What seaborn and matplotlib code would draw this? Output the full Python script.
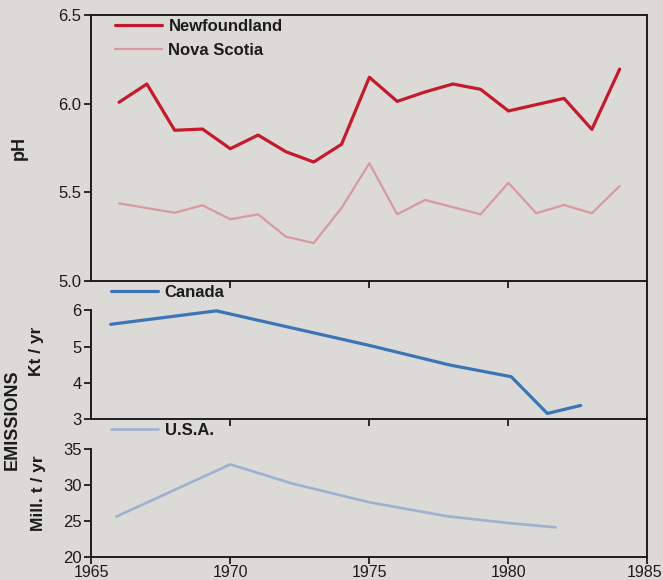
import numpy as np
import pandas as pd
import matplotlib
matplotlib.use('Agg')
import matplotlib.pyplot as plt
import matplotlib.transforms as mtransforms
import seaborn as sns

# pH of rivers
nf_years = [1966, 1967, 1968, 1969, 1970, 1971, 1972, 1973, 1974, 1975,
            1976, 1977, 1978, 1979, 1980, 1982, 1983, 1984]
nf_ph = [6.008, 6.111, 5.850, 5.857, 5.746, 5.823, 5.729, 5.671, 5.771, 6.149,
         6.013, 6.066, 6.111, 6.081, 5.959, 6.030, 5.855, 6.195]

ns_years = [1966, 1968, 1969, 1970, 1971, 1972, 1973, 1974, 1975, 1976,
            1977, 1979, 1980, 1981, 1982, 1983, 1984]
ns_ph = [5.438, 5.385, 5.427, 5.348, 5.376, 5.250, 5.214, 5.412, 5.664, 5.376,
         5.457, 5.376, 5.554, 5.382, 5.429, 5.382, 5.536]

# emissions
can_years = [1965.7, 1969.5, 1975.0, 1977.9, 1980.1, 1981.4, 1982.6]
can_kt = [5.61, 5.98, 5.03, 4.49, 4.17, 3.16, 3.38]

usa_years = [1965.9, 1970.0, 1972.2, 1975.0, 1977.8, 1980.0, 1981.7]
usa_mt = [25.6, 32.9, 30.25, 27.6, 25.65, 24.7, 24.1]

year_ticks = [1965, 1970, 1975, 1980, 1985]

paper = '#dcdad7'
ink = '#1c1c1c'

sns.set_theme(style='ticks')
plt.rcParams['font.family'] = ['Liberation Sans', 'DejaVu Sans']
plt.rcParams['axes.edgecolor'] = ink
plt.rcParams['axes.linewidth'] = 1.4
plt.rcParams['xtick.color'] = ink
plt.rcParams['ytick.color'] = ink
plt.rcParams['xtick.major.width'] = 1.3
plt.rcParams['ytick.major.width'] = 1.3
plt.rcParams['xtick.major.size'] = 5
plt.rcParams['ytick.major.size'] = 5
plt.rcParams['xtick.major.pad'] = 1.0
plt.rcParams['ytick.major.pad'] = 2

fig = plt.figure(figsize=(6.63, 5.8), dpi=100, facecolor=paper)
left, width = 0.1376, 0.839
ax_usa = fig.add_axes([left, 0.0402, width, 0.2369])
ax_can = fig.add_axes([left, 0.2771, width, 0.2384])
ax_ph = fig.add_axes([left, 0.5155, width, 0.4586])

ph_df = pd.concat([
    pd.DataFrame({'year': nf_years, 'pH': nf_ph, 'site': 'Newfoundland'}),
    pd.DataFrame({'year': ns_years, 'pH': ns_ph, 'site': 'Nova Scotia'}),
])
sns.lineplot(data=ph_df, x='year', y='pH', hue='site', size='site',
             palette={'Newfoundland': '#c41a2b', 'Nova Scotia': '#d89aa0'},
             sizes={'Newfoundland': 2.3, 'Nova Scotia': 1.6},
             ax=ax_ph)

sns.lineplot(x=can_years, y=can_kt, color='#3c74b6', linewidth=2.3,
             label='Canada', ax=ax_can)
sns.lineplot(x=usa_years, y=usa_mt, color='#9db2d2', linewidth=1.9,
             label='U.S.A.', ax=ax_usa)

for ax in (ax_ph, ax_can, ax_usa):
    ax.patch.set_visible(False)
    ax.set_xlim(1965, 1985)
    ax.set_xlabel('')
    ax.set_ylabel('')
    ax.tick_params(labelsize=12, direction='out')
    for s in ax.spines.values():
        s.set_visible(True)

ax_ph.set_ylim(5.0, 6.5)
ax_ph.set_yticks([5.0, 5.5, 6.0, 6.5])
ax_ph.set_xticks([1970, 1975, 1980])
ax_ph.set_xticklabels([])

ax_can.set_ylim(3, 6.80)
ax_can.set_yticks([3, 4, 5, 6])
ax_can.spines['left'].set_bounds(3, 6)
ax_can.spines['top'].set_visible(False)
ax_can.set_xticks([1970, 1975, 1980])
ax_can.set_xticklabels([])

ax_usa.set_ylim(20, 39.2)
ax_usa.set_yticks([20, 25, 30, 35])
ax_usa.spines['left'].set_bounds(20, 35)
ax_usa.spines['top'].set_visible(False)
ax_usa.set_xticks(year_ticks)
ax_usa.set_xticklabels([str(y) for y in year_ticks])
ax_usa.tick_params(axis='x', labelsize=11.5)
# nudge the last year label so it stays inside the picture
last = ax_usa.get_xticklabels()[-1]
last.set_transform(last.get_transform() +
                   mtransforms.ScaledTranslation(-3 / 100, 0, fig.dpi_scale_trans))

leg_kw = dict(frameon=False, loc='upper left', borderpad=0, borderaxespad=0,
              handlelength=2.8, handletextpad=0.4,
              prop={'weight': 'bold', 'size': 12})
ax_ph.legend(bbox_to_anchor=(0.043, 0.985), labelspacing=0.55, **leg_kw)
ax_can.legend(bbox_to_anchor=(0.036, 0.97), **leg_kw)
ax_usa.legend(bbox_to_anchor=(0.036, 0.975), **leg_kw)
for ax in (ax_ph, ax_can, ax_usa):
    for t in ax.get_legend().get_texts():
        t.set_color(ink)

fig.text(19 / 663, 1 - 148 / 580, 'pH', rotation=90, ha='center', va='center',
         fontsize=13, fontweight='bold', color=ink)
fig.text(12.5 / 663, 1 - 420 / 580, 'EMISSIONS', rotation=90, ha='center',
         va='center', fontsize=13, fontweight='bold', color=ink)
fig.text(37 / 663, 1 - 351 / 580, 'Kt / yr', rotation=90, ha='center',
         va='center', fontsize=12.5, fontweight='bold', color=ink)
fig.text(38 / 663, 1 - 493 / 580, 'Mill. t / yr', rotation=90, ha='center',
         va='center', fontsize=12.5, fontweight='bold', color=ink)

fig.savefig('out.png', dpi=100, facecolor=paper)
